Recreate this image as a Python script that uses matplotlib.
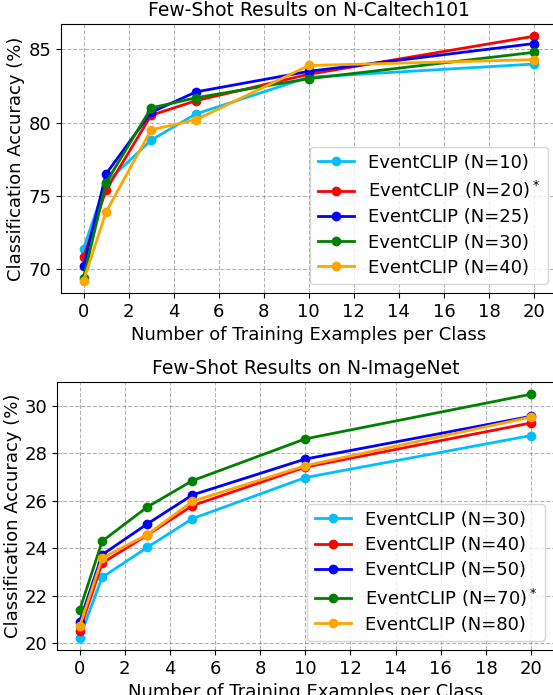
import matplotlib
matplotlib.use('Agg')
import matplotlib.pyplot as plt

shots = [0, 1, 3, 5, 10, 20]

# N-Caltech101
caltech_labels = ['EventCLIP (N=10)', 'EventCLIP (N=20)$^*$', 'EventCLIP (N=25)',
                  'EventCLIP (N=30)', 'EventCLIP (N=40)']
caltech_n10 = [71.4, 75.9, 78.8, 80.6, 83.1, 84.0]
caltech_n20 = [70.8, 75.4, 80.5, 81.5, 83.3, 85.9]
caltech_n25 = [70.2, 76.5, 80.7, 82.1, 83.5, 85.4]
caltech_n30 = [69.4, 75.9, 81.0, 81.7, 83.0, 84.8]
caltech_n40 = [69.2, 73.9, 79.5, 80.2, 83.9, 84.3]

# N-ImageNet
imagenet_labels = ['EventCLIP (N=30)', 'EventCLIP (N=40)', 'EventCLIP (N=50)',
                   'EventCLIP (N=70)$^*$', 'EventCLIP (N=80)']
imagenet_n30 = [20.22, 22.77, 24.03, 25.24, 26.97, 28.74]
imagenet_n40 = [20.52, 23.37, 24.55, 25.79, 27.41, 29.27]
imagenet_n50 = [20.90, 23.72, 25.02, 26.24, 27.75, 29.55]
imagenet_n70 = [21.38, 24.29, 25.73, 26.84, 28.60, 30.48]
imagenet_n80 = [20.70, 23.58, 24.57, 25.97, 27.47, 29.52]

colors = ['deepskyblue', 'red', 'blue', 'green', 'orange']

fig = plt.figure(figsize=(5.53, 6.95), dpi=100)
ax1 = fig.add_axes([0.1103, 0.5784, 0.8962, 0.3871])
ax2 = fig.add_axes([0.1031, 0.0647, 0.898, 0.3856])


def draw(ax, series, labels, title):
    for ys, lab, c in zip(series, labels, colors):
        ax.plot(shots, ys, marker='o', markersize=6, linewidth=2, color=c, label=lab)
    ax.set_title(title, fontsize=13.5)
    ax.set_xlabel('Number of Training Examples per Class', fontsize=13)
    ax.set_ylabel('Classification Accuracy (%)', fontsize=13, labelpad=2)
    ax.set_xticks(range(0, 21, 2))
    ax.tick_params(labelsize=13)
    ax.grid(True, linestyle='--', color='gray', alpha=0.6)
    ax.legend(loc='lower right', fontsize=13, labelspacing=0.4)


draw(ax1, [caltech_n10, caltech_n20, caltech_n25, caltech_n30, caltech_n40],
     caltech_labels, 'Few-Shot Results on N-Caltech101')
draw(ax2, [imagenet_n30, imagenet_n40, imagenet_n50, imagenet_n70, imagenet_n80],
     imagenet_labels, 'Few-Shot Results on N-ImageNet')

fig.savefig('out.png', dpi=100)
